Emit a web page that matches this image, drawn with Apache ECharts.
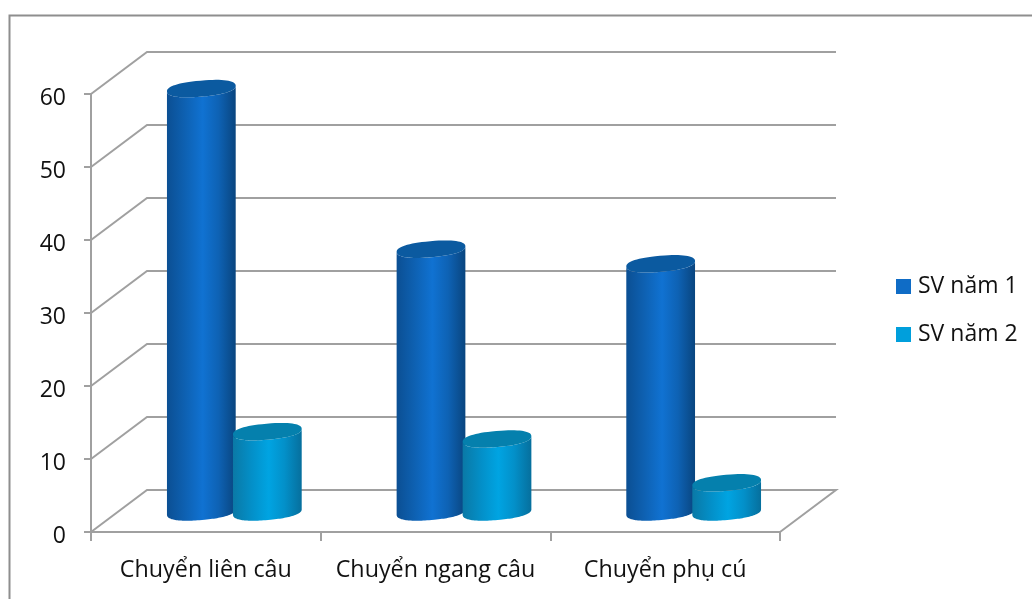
<!DOCTYPE html>
<html>
<head>
<meta charset="utf-8">
<style>html,body{margin:0;padding:0;background:#fff}#chart{width:1032px;height:599px}</style>
<script src="https://cdn.jsdelivr.net/npm/echarts@6/dist/echarts.min.js"></script>
</head>
<body>
<div id="chart"></div>
<script>
const categories = ['Chuyển liên câu', 'Chuyển ngang câu', 'Chuyển phụ cú'];
const svNam1 = [58, 36, 34];
const svNam2 = [11, 10, 4];
const yTicks = [0, 10, 20, 30, 40, 50, 60];
const seriesNames = ['SV năm 1', 'SV năm 2'];

// Oblique projection of the floor depth onto the screen.
const DEPTH_X = 56;
const DEPTH_Y = -42;
const FONT = '"Open Sans", "Noto Sans", sans-serif';
const WALL = '#a0a0a0';

// Back wall gridlines with their diagonal returns to the value axis.
function renderWall(params, api) {
  const y = api.coord([0, api.value(1)])[1];
  const cs = params.coordSys;
  const x0 = cs.x, x1 = cs.x + cs.width;
  const style = { stroke: WALL, lineWidth: 2, fill: null };
  const pts = [[x0, y], [x0 + DEPTH_X, y + DEPTH_Y], [x1 + DEPTH_X, y + DEPTH_Y]];
  if (api.value(1) === 0) pts.push([x1, y]);
  return { type: 'polyline', shape: { points: pts }, style };
}

// Slightly squared ellipse gives the blunt ends of the cylinder caps.
function ellipsePoints(cx, cy, from, to) {
  const a = 34.5, b = 8, r = -5 * Math.PI / 180, n = 64, out = [], p = 0.86;
  for (let i = 0; i <= n; i++) {
    const t = from + (to - from) * i / n;
    const c = Math.cos(t), s = Math.sin(t);
    const u = a * Math.sign(c) * Math.pow(Math.abs(c), p);
    const v = b * Math.sign(s) * Math.pow(Math.abs(s), p);
    out.push([cx + u * Math.cos(r) - v * Math.sin(r), cy + u * Math.sin(r) + v * Math.cos(r)]);
  }
  return out;
}

// Cylinder standing at mid depth of the floor.
function cylinderRenderer(shift, side, mid, dark, top) {
  return function (params, api) {
    const base = api.coord([api.value(0), 0]);
    const head = api.coord([api.value(0), api.value(1)]);
    const cx = base[0] + DEPTH_X / 2 + shift + 0.5;
    const baseY = base[1] + DEPTH_Y / 2 + 1;
    const topY = head[1] + DEPTH_Y / 2 + 1;
    const body = ellipsePoints(cx, baseY, 0, Math.PI).concat(ellipsePoints(cx, topY, Math.PI, 0));
    return {
      type: 'group',
      children: [
        {
          type: 'polygon',
          shape: { points: body },
          style: {
            fill: new echarts.graphic.LinearGradient(0, 0, 1, 0, [
              { offset: 0, color: side },
              { offset: 0.28, color: mid[0] },
              { offset: 0.52, color: mid[1] },
              { offset: 0.75, color: mid[0] },
              { offset: 1, color: dark }
            ])
          }
        },
        { type: 'polygon', shape: { points: ellipsePoints(cx, topY, 0, Math.PI * 2) }, style: { fill: top } }
      ]
    };
  };
}

const chart = echarts.init(document.getElementById('chart'), null, { renderer: 'canvas' });
chart.setOption({
  animation: false,
  backgroundColor: '#ffffff',
  textStyle: { fontFamily: FONT },
  graphic: [{
    type: 'polyline',
    z: 0,
    shape: { points: [[9.5, 599], [9.5, 15.5], [1032, 15.5]] },
    style: { stroke: '#8e8e8e', lineWidth: 2, fill: null }
  }],
  grid: { left: 91, top: 94, width: 689, height: 438, containLabel: false },
  xAxis: {
    type: 'category',
    data: categories,
    axisLine: { lineStyle: { color: WALL, width: 2 } },
    axisTick: { show: true, interval: 0, length: 9, lineStyle: { color: WALL, width: 2 } },
    axisLabel: { color: '#111', fontFamily: FONT, fontSize: 23.3, margin: 27, interval: 0, hideOverlap: false },
    splitLine: { show: false }
  },
  yAxis: {
    type: 'value',
    min: 0,
    max: 60,
    interval: 10,
    axisLine: { show: true, lineStyle: { color: WALL, width: 2 } },
    axisTick: { show: true, length: 7, lineStyle: { color: WALL, width: 2 } },
    axisLabel: { color: '#111', fontFamily: FONT, fontSize: 23, margin: 25, verticalAlign: 'top', lineHeight: 9 },
    splitLine: { show: false }
  },
  legend: {
    left: 896,
    top: 275,
    padding: 0,
    orient: 'vertical',
    icon: 'rect',
    itemWidth: 15,
    itemHeight: 15,
    itemGap: 25,
    data: seriesNames,
    textStyle: { color: '#111', fontFamily: FONT, fontSize: 23, padding: [0, 0, 0, 2] }
  },
  series: [
    {
      type: 'custom',
      silent: true,
      z: 1,
      renderItem: renderWall,
      data: yTicks.map(v => [0, v])
    },
    {
      name: seriesNames[0],
      type: 'custom',
      z: 3,
      itemStyle: { color: '#0f6cc6' },
      renderItem: cylinderRenderer(-33, '#0b4f93', ['#0e62b4', '#1072d2'], '#09457f', '#0b5aa0'),
      data: svNam1.map((v, i) => [i, v])
    },
    {
      name: seriesNames[1],
      type: 'custom',
      z: 4,
      itemStyle: { color: '#009fdc' },
      renderItem: cylinderRenderer(33, '#0a79a6', ['#0390c9', '#00a4e2'], '#066f9d', '#0580ad'),
      data: svNam2.map((v, i) => [i, v])
    }
  ]
});
</script>
</body>
</html>
